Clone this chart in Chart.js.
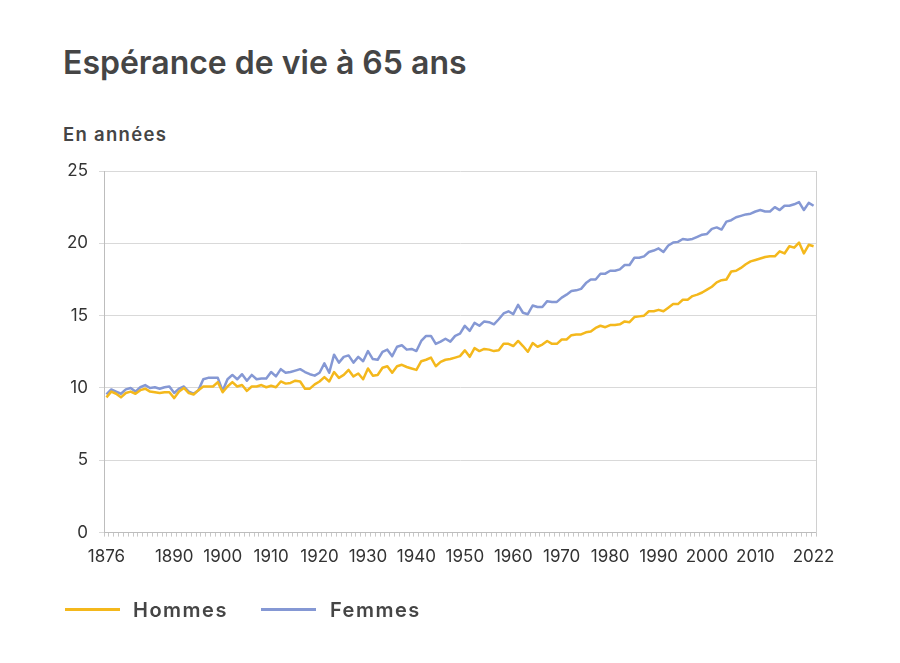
<!DOCTYPE html>
<html lang="fr">
<head>
<meta charset="utf-8">
<title>Espérance de vie à 65 ans</title>
<script src="https://cdn.jsdelivr.net/npm/chart.js@4.4.1/dist/chart.umd.min.js"></script>
<style>
  html, body { margin: 0; padding: 0; background: #fff; }
  #wrap { position: relative; width: 900px; height: 663px; }
  #title { position: absolute; left: 63px; top: 47px; font: 600 32px/32px Inter, sans-serif; color: #454545; white-space: nowrap; }
  #subtitle { position: absolute; left: 63px; top: 125px; font: 600 18.5px/19px Inter, sans-serif; letter-spacing: 1.3px; color: #454545; white-space: nowrap; }
  canvas { position: absolute; left: 0; top: 0; }
  #legend { position: absolute; left: 0; top: 0; width: 900px; height: 663px; pointer-events: none; }
  .swatch { position: absolute; top: 608px; width: 55px; height: 2.5px; }
  .item-label { position: absolute; top: 600px; font: 600 20px/20px Inter, sans-serif; letter-spacing: 1.5px; color: #454545; white-space: nowrap; }
</style>
</head>
<body>
<div id="wrap">
  <div id="title">Espérance de vie à 65 ans</div>
  <div id="subtitle">En années</div>
  <canvas id="lifeChart" width="900" height="663"></canvas>
  <div id="legend"></div>
</div>
<script>
// years 1876 .. 2022
var firstYear = 1876;
var lastYear = 2022;
var years = [];
for (var yr = firstYear; yr <= lastYear; yr++) years.push(yr);

// life expectancy at 65, in years
var hommes = [
    9.35, 9.75, 9.6, 9.35, 9.65, 9.75, 9.6, 9.85, 9.95, 9.75,       // 1876-1885
    9.7, 9.65, 9.7, 9.7, 9.3, 9.75, 10.0, 9.65, 9.55, 9.85,         // 1886-1895
    10.1, 10.1, 10.1, 10.4, 9.7, 10.1, 10.4, 10.1, 10.2, 9.8,       // 1896-1905
    10.1, 10.1, 10.2, 10.05, 10.15, 10.05, 10.45, 10.3, 10.35, 10.5, // 1906-1915
    10.45, 9.95, 9.95, 10.25, 10.45, 10.75, 10.45, 11.1, 10.7, 10.9, // 1916-1925
    11.25, 10.8, 11.0, 10.6, 11.35, 10.85, 10.9, 11.4, 11.5, 11.05,  // 1926-1935
    11.5, 11.6, 11.45, 11.35, 11.25, 11.85, 11.95, 12.1, 11.5, 11.8, // 1936-1945
    11.95, 12.0, 12.1, 12.2, 12.6, 12.15, 12.75, 12.55, 12.7, 12.65, // 1946-1955
    12.55, 12.6, 13.05, 13.05, 12.9, 13.25, 12.9, 12.5, 13.1, 12.85, // 1956-1965
    13.0, 13.25, 13.05, 13.05, 13.35, 13.35, 13.65, 13.7, 13.7, 13.85, // 1966-1975
    13.9, 14.15, 14.3, 14.2, 14.35, 14.35, 14.4, 14.6, 14.55, 14.9,  // 1976-1985
    14.95, 15.0, 15.3, 15.3, 15.4, 15.3, 15.55, 15.8, 15.8, 16.1,    // 1986-1995
    16.1, 16.35, 16.45, 16.6, 16.8, 17.0, 17.3, 17.45, 17.5, 18.05,  // 1996-2005
    18.1, 18.3, 18.55, 18.75, 18.85, 18.95, 19.05, 19.1, 19.1, 19.45, // 2006-2015
    19.3, 19.8, 19.7, 20.05, 19.3, 19.9, 19.8                        // 2016-2022
];
var femmes = [
    9.55, 9.9, 9.75, 9.6, 9.9, 10.0, 9.75, 10.05, 10.2, 10.0,        // 1876-1885
    10.05, 9.95, 10.05, 10.1, 9.65, 9.95, 10.1, 9.75, 9.6, 9.85,     // 1886-1895
    10.6, 10.7, 10.7, 10.7, 9.8, 10.6, 10.9, 10.6, 10.95, 10.5,      // 1896-1905
    10.9, 10.6, 10.65, 10.65, 11.1, 10.8, 11.3, 11.05, 11.1, 11.2,   // 1906-1915
    11.3, 11.1, 10.95, 10.85, 11.05, 11.7, 11.05, 12.3, 11.75, 12.15, // 1916-1925
    12.25, 11.75, 12.15, 11.85, 12.55, 12.0, 11.95, 12.5, 12.65, 12.2, // 1926-1935
    12.85, 12.95, 12.65, 12.7, 12.55, 13.25, 13.6, 13.6, 13.05, 13.2, // 1936-1945
    13.4, 13.2, 13.6, 13.75, 14.3, 13.95, 14.5, 14.3, 14.6, 14.55,   // 1946-1955
    14.4, 14.75, 15.15, 15.3, 15.1, 15.75, 15.2, 15.1, 15.7, 15.6,   // 1956-1965
    15.6, 16.0, 15.95, 15.95, 16.25, 16.45, 16.7, 16.75, 16.85, 17.25, // 1966-1975
    17.5, 17.5, 17.9, 17.9, 18.1, 18.1, 18.2, 18.5, 18.5, 19.0,      // 1976-1985
    19.0, 19.1, 19.4, 19.5, 19.65, 19.4, 19.85, 20.05, 20.1, 20.3,   // 1986-1995
    20.25, 20.3, 20.45, 20.6, 20.65, 21.0, 21.1, 20.95, 21.5, 21.6,  // 1996-2005
    21.8, 21.9, 22.0, 22.05, 22.2, 22.3, 22.2, 22.2, 22.5, 22.3,     // 2006-2015
    22.6, 22.6, 22.7, 22.85, 22.3, 22.8, 22.6                        // 2016-2022
];

var xTickYears = [1876, 1890, 1900, 1910, 1920, 1930, 1940, 1950, 1960, 1970, 1980, 1990, 2000, 2010, 2022];
var yTicks = [0, 5, 10, 15, 20, 25];

function toPoints(values) {
    return values.map(function(v, i) { return { x: years[i], y: v }; });
}

Chart.defaults.font.family = 'Inter, sans-serif';
Chart.defaults.color = '#333';

var ctx = document.getElementById('lifeChart').getContext('2d');
var lifeChart = new Chart(ctx, {
    type: 'line',
    data: {
        datasets: [
            {
                label: 'Hommes',
                data: toPoints(hommes),
                borderColor: '#F4B81C',
                backgroundColor: '#F4B81C',
                borderWidth: 2.5,
                pointRadius: 0,
                borderJoinStyle: 'round',
                xAxisID: 'x',
                yAxisID: 'y'
            },
            {
                label: 'Femmes',
                data: toPoints(femmes),
                borderColor: '#8598D4',
                backgroundColor: '#8598D4',
                borderWidth: 2.5,
                pointRadius: 0,
                borderJoinStyle: 'round',
                xAxisID: 'x',
                yAxisID: 'y'
            }
        ]
    },
    options: {
        responsive: false,
        animation: false,
        layout: { padding: { top: 171, left: 33, right: 84, bottom: 86 } },
        plugins: {
            legend: { display: false },
            tooltip: { enabled: false }
        },
        scales: {
            x: {
                type: 'linear',
                position: 'bottom',
                min: firstYear - 0.5,
                max: lastYear + 0.5,
                weight: 1,
                border: { display: false },
                grid: { display: false, drawTicks: false },
                afterBuildTicks: function(scale) {
                    scale.ticks = xTickYears.map(function(v) { return { value: v }; });
                },
                ticks: {
                    padding: 10,
                    autoSkip: false,
                    maxRotation: 0,
                    color: '#333',
                    font: { size: 17 },
                    callback: function(value) { return String(value); }
                }
            },
            xMinor: {
                type: 'linear',
                position: 'bottom',
                min: firstYear - 0.5,
                max: lastYear + 0.5,
                weight: 0,
                afterBuildTicks: function(scale) {
                    var t = [{ value: firstYear - 0.5 }];
                    years.forEach(function(y) { t.push({ value: y + 0.5 }); });
                    scale.ticks = t;
                },
                ticks: { display: false },
                grid: { drawOnChartArea: false, drawTicks: true, tickLength: 4, color: '#c8c8c8' },
                border: { display: true, color: '#bdbdbd', width: 1 }
            },
            y: {
                type: 'linear',
                position: 'left',
                min: 0,
                max: 25,
                afterBuildTicks: function(scale) {
                    scale.ticks = yTicks.map(function(v) { return { value: v }; });
                },
                afterFit: function(scale) { scale.width = 71; },
                ticks: { padding: 11, color: '#333', font: { size: 17 } },
                grid: { color: '#d9d9d9', tickLength: 5 },
                border: { color: '#bdbdbd' }
            },
            y2: {
                type: 'linear',
                position: 'right',
                min: 0,
                max: 25,
                ticks: { display: false },
                grid: { drawOnChartArea: false, drawTicks: false },
                border: { color: '#d0d0d0' }
            }
        }
    }
});

// legend below the chart, built from the datasets
var legendPos = [{ line: 65, text: 133 }, { line: 261, text: 330 }];
var legendBox = document.getElementById('legend');
lifeChart.data.datasets.forEach(function(ds, i) {
    var sw = document.createElement('div');
    sw.className = 'swatch';
    sw.style.left = legendPos[i].line + 'px';
    sw.style.background = ds.borderColor;
    legendBox.appendChild(sw);
    var lb = document.createElement('div');
    lb.className = 'item-label';
    lb.style.left = legendPos[i].text + 'px';
    lb.textContent = ds.label;
    legendBox.appendChild(lb);
});
</script>
</body>
</html>
